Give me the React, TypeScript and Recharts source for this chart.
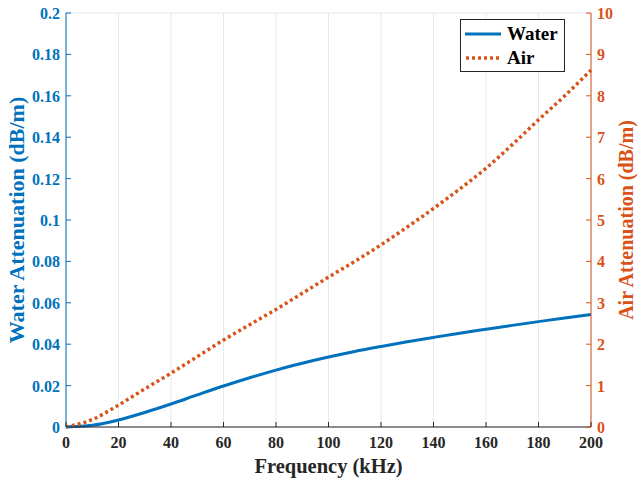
import React from 'react';
import {
  ComposedChart,
  Line,
  XAxis,
  YAxis,
  CartesianGrid,
} from 'recharts';

const frequency = [0, 10, 20, 30, 40, 50, 60, 70, 80, 90, 100, 110, 120, 130, 140, 150, 160, 170, 180, 190, 200];
const water = [0, 0.0008, 0.0034, 0.007, 0.0111, 0.0155, 0.0198, 0.0238, 0.0275, 0.0308, 0.0338, 0.0365, 0.0389, 0.0412, 0.0433, 0.0453, 0.0472, 0.0491, 0.0509, 0.0527, 0.0544];
const air = [0, 0.18, 0.53, 0.92, 1.3, 1.7, 2.1, 2.47, 2.84, 3.23, 3.62, 4.0, 4.4, 4.83, 5.28, 5.75, 6.25, 6.82, 7.42, 8.0, 8.62];

const xTicks = [0, 20, 40, 60, 80, 100, 120, 140, 160, 180, 200];
const waterTicks = [0, 0.02, 0.04, 0.06, 0.08, 0.1, 0.12, 0.14, 0.16, 0.18, 0.2];
const airTicks = [0, 1, 2, 3, 4, 5, 6, 7, 8, 9, 10];

const BLUE = '#0072BD';
const ORANGE = '#D95319';
const DARK = '#262626';
const FONT = '"Liberation Serif", "Times New Roman", serif';

const data = frequency.map((f, i) => ({ f, water: water[i], air: air[i] }));

function BottomTick({ x, y, payload }: any) {
  return (
    <g>
      <line x1={x} y1={y} x2={x} y2={y - 5} stroke={DARK} />
      <text x={x} y={y + 21} textAnchor="middle" fill={DARK} fontFamily={FONT} fontWeight="bold" fontSize={16}>
        {payload.value}
      </text>
    </g>
  );
}

function TopTick({ x, y }: any) {
  return <line x1={x} y1={y} x2={x} y2={y + 5} stroke={DARK} />;
}

function LeftTick({ x, y, payload }: any) {
  return (
    <g>
      <line x1={x} y1={y} x2={x + 5} y2={y} stroke={BLUE} />
      <text x={x - 6} y={y + 6} textAnchor="end" fill={BLUE} fontFamily={FONT} fontWeight="bold" fontSize={16}>
        {payload.value}
      </text>
    </g>
  );
}

function RightTick({ x, y, payload }: any) {
  return (
    <g>
      <line x1={x} y1={y} x2={x - 5} y2={y} stroke={ORANGE} />
      <text x={x + 6} y={y + 6} textAnchor="start" fill={ORANGE} fontFamily={FONT} fontWeight="bold" fontSize={16}>
        {payload.value}
      </text>
    </g>
  );
}

function LegendBox() {
  const row = { display: 'flex', alignItems: 'center', height: 24 } as const;
  const label = { fontFamily: FONT, fontWeight: 'bold', fontSize: 19, color: '#000', marginLeft: 6 } as const;
  return (
    <div
      style={{
        position: 'absolute',
        left: 460,
        top: 19,
        width: 105,
        height: 53,
        border: `1px solid ${DARK}`,
        background: '#fff',
        boxSizing: 'border-box',
        padding: '2px 4px',
      }}
    >
      <div style={row}>
        <svg width={36} height={6}><line x1={0} y1={3} x2={36} y2={3} stroke={BLUE} strokeWidth={3} /></svg>
        <span style={label}>Water</span>
      </div>
      <div style={row}>
        <svg width={36} height={6}><line x1={1} y1={3} x2={36} y2={3} stroke={ORANGE} strokeWidth={3.5} strokeDasharray="3 3" /></svg>
        <span style={label}>Air</span>
      </div>
    </div>
  );
}

export default function App() {
  return (
    <div style={{ position: 'absolute', left: 0, top: 0, width: 638, height: 478, background: '#fff' }}>
      <ComposedChart width={638} height={478} data={data} margin={{ top: 13, right: 0, bottom: 0, left: 0 }}>
        <CartesianGrid stroke="#e4e7ec" vertical horizontal />
        <XAxis
          dataKey="f"
          type="number"
          domain={[0, 200]}
          ticks={xTicks}
          height={51}
          tickLine={false}
          tickSize={0}
          tickMargin={0}
          tick={<BottomTick />}
          axisLine={{ stroke: DARK }}
          label={{ value: 'Frequency (kHz)', position: 'insideBottom', offset: 5, style: { fontFamily: FONT, fontWeight: 'bold', fontSize: 20.5, fill: DARK } }}
        />
        <XAxis
          xAxisId="top"
          orientation="top"
          dataKey="f"
          type="number"
          domain={[0, 200]}
          ticks={xTicks}
          height={0}
          tickLine={false}
          tickSize={0}
          tickMargin={0}
          tick={<TopTick />}
          axisLine={{ stroke: DARK }}
        />
        <YAxis
          yAxisId="left"
          domain={[0, 0.2]}
          ticks={waterTicks}
          width={66}
          tickLine={false}
          tickSize={0}
          tickMargin={0}
          tick={<LeftTick />}
          axisLine={{ stroke: BLUE }}
          label={{ value: 'Water Attenuation (dB/m)', angle: -90, position: 'insideLeft', offset: 16, style: { textAnchor: 'middle', fontFamily: FONT, fontWeight: 'bold', fontSize: 22, fill: BLUE } }}
        />
        <YAxis
          yAxisId="right"
          orientation="right"
          domain={[0, 10]}
          ticks={airTicks}
          width={47}
          tickLine={false}
          tickSize={0}
          tickMargin={0}
          tick={<RightTick />}
          axisLine={{ stroke: ORANGE }}
          label={{ value: 'Air Attenuation (dB/m)', angle: -90, position: 'insideRight', offset: 12, style: { textAnchor: 'middle', fontFamily: FONT, fontWeight: 'bold', fontSize: 20, fill: ORANGE } }}
        />
        <Line yAxisId="left" type="monotone" dataKey="water" stroke={BLUE} strokeWidth={3} dot={false} isAnimationActive={false} />
        <Line yAxisId="right" type="monotone" dataKey="air" stroke={ORANGE} strokeWidth={3.5} strokeDasharray="3 3" dot={false} isAnimationActive={false} />
      </ComposedChart>
      <LegendBox />
    </div>
  );
}
